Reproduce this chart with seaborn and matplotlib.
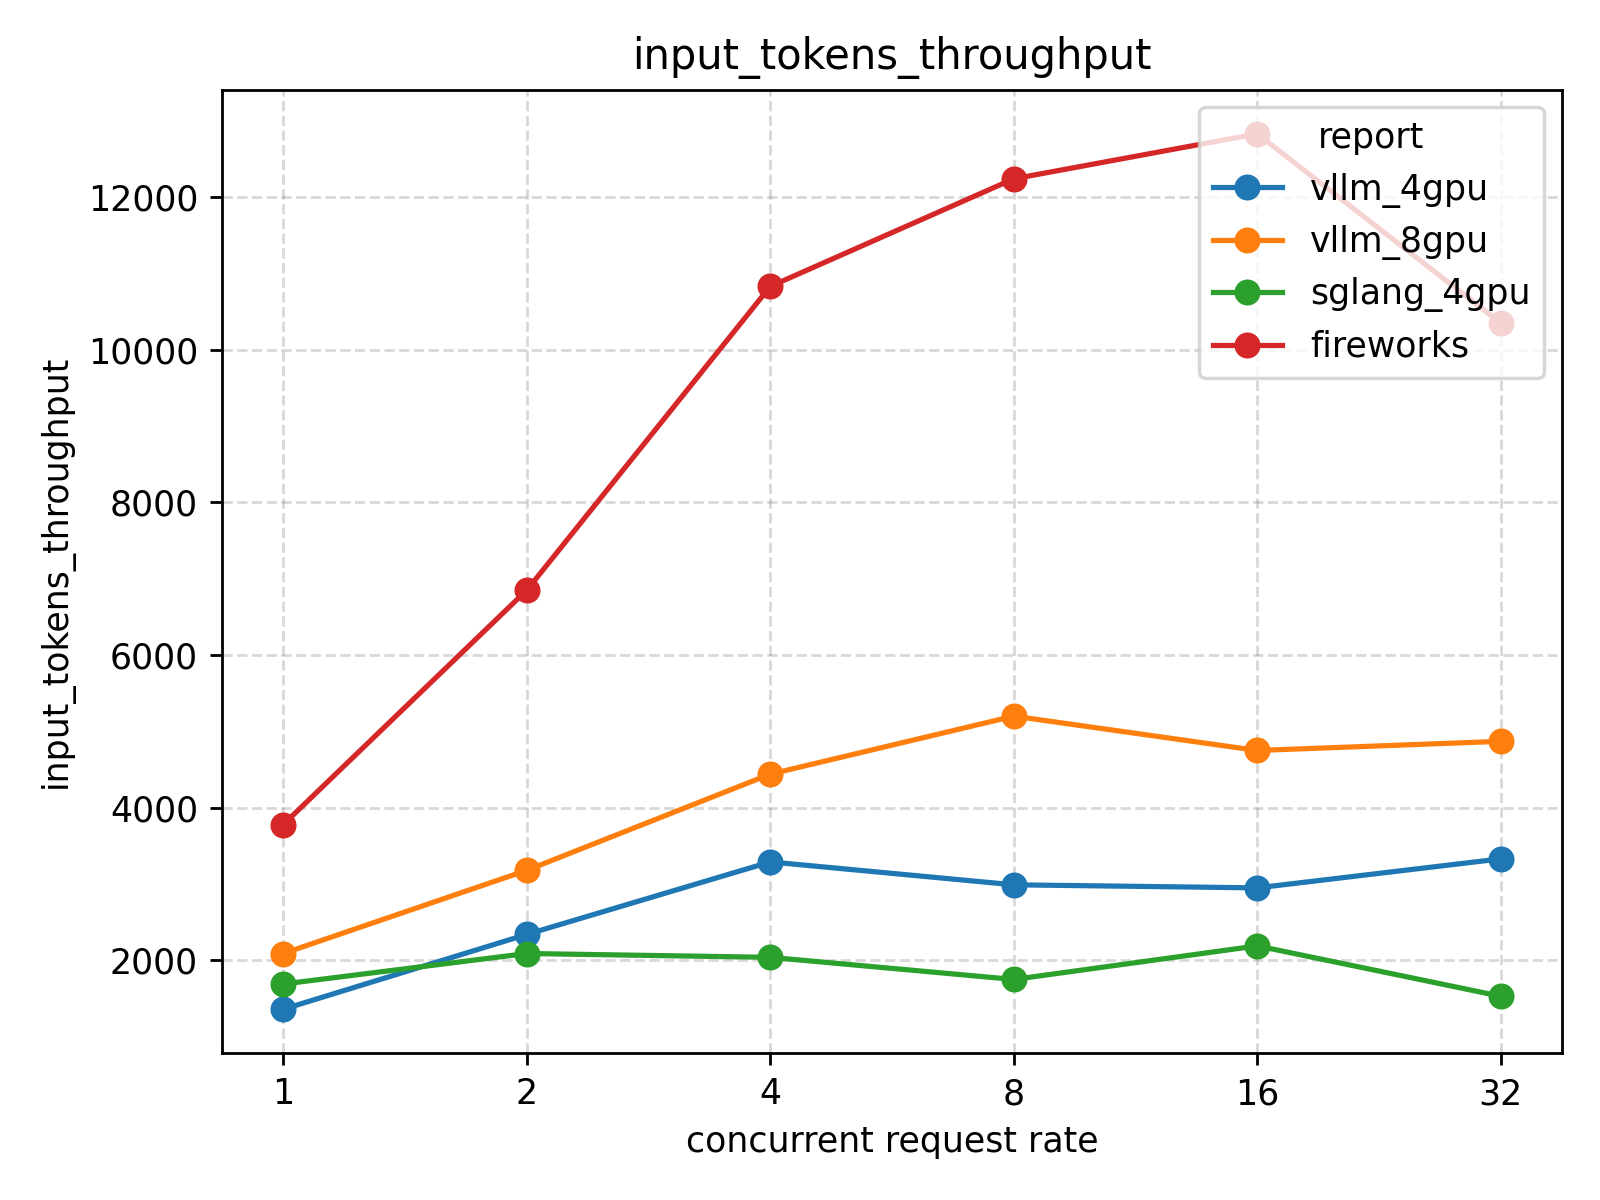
import pandas as pd
import matplotlib.pyplot as plt
import seaborn as sns

# Data
rates = ['1', '2', '4', '8', '16', '32']
reports = ['vllm_4gpu', 'vllm_8gpu', 'sglang_4gpu', 'fireworks']
vllm_4gpu = [1360, 2340, 3290, 2990, 2950, 3330]
vllm_8gpu = [2090, 3180, 4440, 5200, 4750, 4870]
sglang_4gpu = [1690, 2090, 2040, 1750, 2190, 1530]
fireworks = [3780, 6850, 10830, 12240, 12830, 10350]

values = {
    'vllm_4gpu': vllm_4gpu,
    'vllm_8gpu': vllm_8gpu,
    'sglang_4gpu': sglang_4gpu,
    'fireworks': fireworks,
}

rows = []
for r in reports:
    for x, v in zip(rates, values[r]):
        rows.append({'concurrent request rate': x, 'input_tokens_throughput': v, 'report': r})
df = pd.DataFrame(rows)

plt.rcParams['font.family'] = ['DejaVu Sans']

fig, ax = plt.subplots(figsize=(6.4, 4.8), dpi=250)
sns.lineplot(data=df, x='concurrent request rate', y='input_tokens_throughput',
             hue='report', hue_order=reports, palette='tab10',
             marker='o', markersize=7.5, markeredgewidth=0, linewidth=1.5,
             sort=False, ax=ax)

ax.grid(True, linestyle='--', color='gray', alpha=0.3)
ax.set_title('input_tokens_throughput')
ax.set_xlabel('concurrent request rate')
ax.set_ylabel('input_tokens_throughput')
ax.legend(title='report', loc='upper right')

fig.subplots_adjust(left=0.139, right=0.976, bottom=0.1225, top=0.925)
plt.savefig('out.png', dpi=250)
